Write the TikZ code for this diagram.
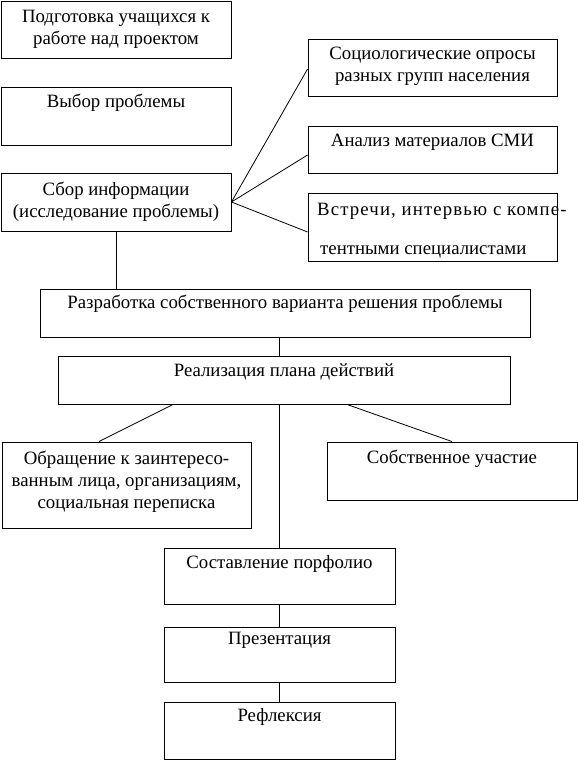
\documentclass[tikz,border=0pt]{standalone}
\usepackage{fontspec}
\setmainfont{Liberation Serif}
\begin{document}
\begin{tikzpicture}[x=1pt,y=-1pt,
  box/.style={draw=black, line width=0.9pt, inner sep=0pt, fill=white},
  lbl/.style={inner sep=0pt, font=\fontsize{18.8}{22}\selectfont, align=center},
  conn/.style={draw=black, line width=0.8pt}]
\useasboundingbox[fill=white] (0,0) rectangle (578,760);
% boxes
\node[box, minimum width=230pt, minimum height=57pt] (b1) at (116,29.5) {};
\node[box, minimum width=230pt, minimum height=58pt] (b2) at (116,116) {};
\node[box, minimum width=230pt, minimum height=58pt] (b3) at (116,202) {};
\node[box, minimum width=249pt, minimum height=57pt] (b4) at (432.5,67.5) {};
\node[box, minimum width=249pt, minimum height=47pt] (b5) at (432.5,149.5) {};
\node[box, minimum width=249pt, minimum height=68pt] (b6) at (432.5,227) {};
\node[box, minimum width=490pt, minimum height=48pt] (b7) at (285,313) {};
\node[box, minimum width=452pt, minimum height=48pt] (b8) at (284,380) {};
\node[box, minimum width=249pt, minimum height=86pt] (b9) at (126.5,485) {};
\node[box, minimum width=250pt, minimum height=58pt] (b10) at (452,471) {};
\node[box, minimum width=231pt, minimum height=56pt] (b11) at (279.5,576) {};
\node[box, minimum width=231pt, minimum height=55pt] (b12) at (279.5,654.5) {};
\node[box, minimum width=231pt, minimum height=57pt] (b13) at (279.5,730.5) {};
% texts
\node[lbl] (t1) at (116,29) {Подготовка учащихся к\\работе над проектом};
\node[lbl] (t2) at (116,103) {Выбор проблемы};
\node[lbl] (t3) at (116,201.5) {Сбор информации\\(исследование проблемы)};
\node[lbl] (t4) at (432.5,66) {Социологические опросы\\разных групп населения};
\node[lbl] (t5) at (432.5,142) {Анализ материалов СМИ};
\node[lbl, anchor=west] (t6a) at (317,211) {\addfontfeature{LetterSpace=6}Встречи, интервью с компе-};
\node[lbl, anchor=west] (t6b) at (320,252) {тентными специалистами};
\node[lbl] (t7) at (285,304) {Разработка собственного варианта решения проблемы};
\node[lbl] (t8) at (284,372) {Реализация плана действий};
\node[lbl] (t9) at (126.5,482) {Обращение к заинтересо-\\ванным лица, организациям,\\социальная переписка};
\node[lbl] (t10) at (452,459) {Собственное участие};
\node[lbl] (t11) at (279.5,564) {Составление порфолио};
\node[lbl] (t12) at (279.5,640) {Презентация};
\node[lbl] (t13) at (279.5,717) {Рефлексия};
% connectors
\draw[conn] (b3.east) -- ([yshift=-1.5pt]b4.west);
\draw[conn] (b3.east) -- ([yshift=-5.5pt]b5.west);
\draw[conn] (b3.east) -- ([yshift=-5pt]b6.west);
\draw[conn] (b3.south) -- (b3.south |- b7.north);
\draw[conn] (b11.north |- b7.south) -- (b11.north |- b8.north);
\draw[conn] ([xshift=-111pt]b8.south) -- ([xshift=-27.5pt]b9.north);
\draw[conn] ([xshift=63pt]b8.south) -- (b10.north);
\draw[conn] (b11.north |- b8.south) -- (b11.north);
\draw[conn] (b11.south) -- (b12.north);
\draw[conn] (b12.south) -- (b13.north);
\end{tikzpicture}
\end{document}
